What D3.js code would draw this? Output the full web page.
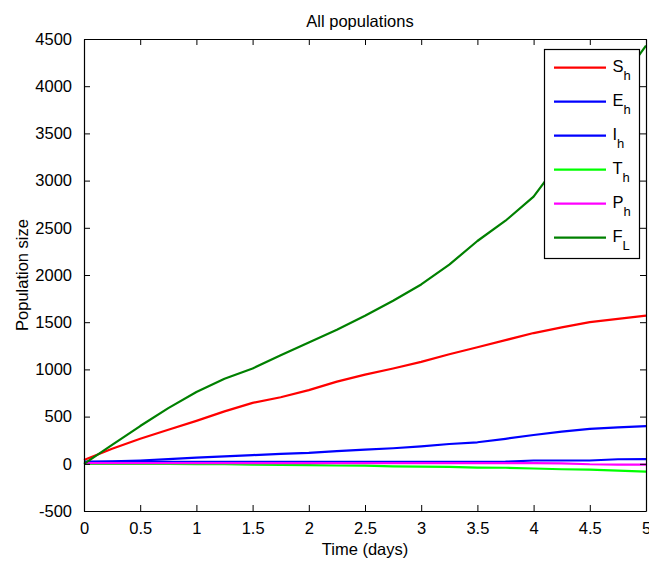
<!DOCTYPE html>
<html>
<head>
<meta charset="utf-8">
<script src="https://cdn.jsdelivr.net/npm/d3@7"></script>
<style>
  html, body { margin: 0; padding: 0; background: #fff; }
  svg { display: block; font-family: "Liberation Sans", Arial, sans-serif; }
</style>
</head>
<body>
<svg id="chart" width="649" height="563"></svg>
<script>
// ---- data ----
const timeDays = [0, 0.25, 0.5, 0.75, 1, 1.25, 1.5, 1.75, 2, 2.25, 2.5, 2.75, 3, 3.25, 3.5, 3.75, 4, 4.25, 4.5, 4.75, 5];
const S_h = [40, 160, 265, 360, 455, 555, 645, 705, 780, 870, 945, 1010, 1080, 1160, 1235, 1310, 1385, 1445, 1500, 1535, 1570];
const E_h = [20, 20, 20, 20, 20, 20, 20, 20, 20, 20, 20, 20, 20, 20, 20, 22, 35, 35, 35, 48, 50];
const I_h = [20, 25, 35, 50, 65, 78, 92, 105, 115, 135, 150, 165, 185, 210, 228, 265, 305, 340, 370, 385, 400];
const T_h = [0, 0, 0, -2, -3, -5, -8, -12, -15, -18, -20, -28, -30, -32, -40, -42, -50, -58, -62, -72, -82];
const P_h = [8, 8, 8, 8, 8, 8, 8, 8, 8, 8, 8, 8, 8, 8, 8, 8, 8, 5, -5, -8, -8];
const F_L = [0, 200, 400, 590, 760, 900, 1010, 1150, 1285, 1420, 1568, 1728, 1900, 2110, 2360, 2575, 2830, 3230, 3620, 4020, 4430];

const seriesNames = ["S", "E", "I", "T", "P", "F"];
const seriesSubs = ["h", "h", "h", "h", "h", "L"];
const seriesColors = ["#ff0000", "#0000ff", "#0000ff", "#00ff00", "#ff00ff", "#008000"];
const seriesValues = [S_h, E_h, I_h, T_h, P_h, F_L];

const xTicks = [0, 0.5, 1, 1.5, 2, 2.5, 3, 3.5, 4, 4.5, 5];
const yTicks = [-500, 0, 500, 1000, 1500, 2000, 2500, 3000, 3500, 4000, 4500];

const titleText = "All populations";
const xLabel = "Time (days)";
const yLabel = "Population size";

// ---- layout ----
const L = 84, R = 646, T = 39, B = 511;
const svg = d3.select("#chart");
const x = d3.scaleLinear().domain([0, 5]).range([L, R]);
const y = d3.scaleLinear().domain([-500, 4500]).range([B, T]);
const FS = 16.5;
const fmt = d => String(d);

// lines
const line = d3.line().x((d, i) => x(timeDays[i])).y(d => y(d));
const plot = svg.append("g");
seriesValues.forEach((vals, k) => {
  plot.append("path")
    .datum(vals)
    .attr("fill", "none")
    .attr("stroke", seriesColors[k])
    .attr("stroke-width", 2.2)
    .attr("stroke-linejoin", "round")
    .attr("d", line);
});

// axes (MATLAB-style box with inward ticks)
function styleAxis(g) {
  g.select(".domain").attr("stroke", "#000").attr("stroke-width", 1.2);
  g.selectAll(".tick line").attr("stroke", "#000").attr("stroke-width", 1);
  g.selectAll(".tick text").attr("fill", "#000").style("font-size", FS + "px")
    .style("font-family", '"Liberation Sans", Arial, sans-serif');
}
const ax = svg.append("g").attr("transform", `translate(0,${B})`)
  .call(d3.axisBottom(x).tickValues(xTicks).tickSizeInner(-6).tickSizeOuter(0).tickPadding(11).tickFormat(fmt));
styleAxis(ax);
const axT = svg.append("g").attr("transform", `translate(0,${T})`)
  .call(d3.axisTop(x).tickValues(xTicks).tickSizeInner(-6).tickSizeOuter(0).tickFormat(""));
styleAxis(axT);
const ay = svg.append("g").attr("transform", `translate(${L},0)`)
  .call(d3.axisLeft(y).tickValues(yTicks).tickSizeInner(-6).tickSizeOuter(0).tickPadding(12).tickFormat(fmt));
styleAxis(ay);
const ayR = svg.append("g").attr("transform", `translate(${R},0)`)
  .call(d3.axisRight(y).tickValues(yTicks).tickSizeInner(-6).tickSizeOuter(0).tickFormat(""));
styleAxis(ayR);

// title and labels
svg.append("text").attr("x", (L + R) / 2 - 5).attr("y", 26.5).attr("text-anchor", "middle")
  .style("font-size", FS + "px").text(titleText);
svg.append("text").attr("x", (L + R) / 2).attr("y", 555).attr("text-anchor", "middle")
  .style("font-size", FS + "px").text(xLabel);
svg.append("text").attr("transform", `translate(28,${(T + B) / 2}) rotate(-90)`).attr("text-anchor", "middle")
  .style("font-size", FS + "px").text(yLabel);

// legend
const lg = svg.append("g");
lg.append("rect").attr("x", 544.5).attr("y", 49.5).attr("width", 95).attr("height", 209)
  .attr("fill", "#fff").attr("stroke", "#000").attr("stroke-width", 1.2);
const rowY0 = 67.7, rowDY = 34;
seriesNames.forEach((nm, k) => {
  const yy = rowY0 + k * rowDY;
  lg.append("line").attr("x1", 554).attr("x2", 606).attr("y1", yy).attr("y2", yy)
    .attr("stroke", seriesColors[k]).attr("stroke-width", 2.2);
  const t = lg.append("text").attr("x", 612.5).attr("y", yy + 4.5).style("font-size", FS + "px");
  t.append("tspan").text(nm);
  t.append("tspan").attr("dy", 8).style("font-size", "13px").text(seriesSubs[k]);
});
</script>
</body>
</html>
